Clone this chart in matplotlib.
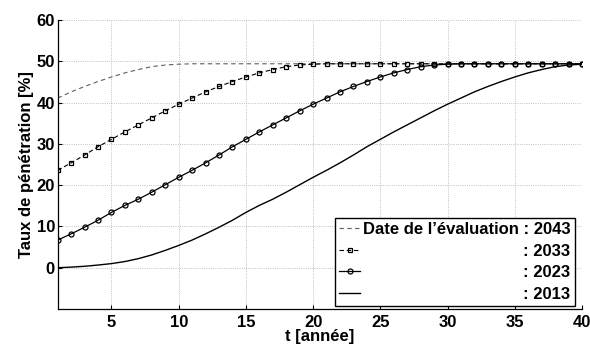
import matplotlib
matplotlib.use("Agg")
import matplotlib.pyplot as plt

plt.rcParams['font.family'] = ['Liberation Sans', 'DejaVu Sans']
plt.rcParams['font.weight'] = 'bold'
plt.rcParams['font.size'] = 12

# ===== données =====
t = list(range(1, 41))

taux_2043 = [41.1, 42.6, 43.9, 45.1, 46.2, 47.2, 48.0, 48.7, 49.1, 49.3,
             49.4, 49.4, 49.4, 49.4, 49.4, 49.4, 49.4, 49.4, 49.4, 49.4,
             49.4, 49.4, 49.4, 49.4, 49.4, 49.4, 49.4, 49.4, 49.4, 49.4,
             49.4, 49.4, 49.4, 49.4, 49.4, 49.4, 49.4, 49.4, 49.4, 49.4]
taux_2033 = [23.6, 25.4, 27.3, 29.3, 31.1, 32.9, 34.6, 36.3, 38.0, 39.6,
             41.1, 42.6, 43.9, 45.1, 46.2, 47.2, 48.0, 48.7, 49.1, 49.3,
             49.4, 49.4, 49.4, 49.4, 49.4, 49.4, 49.4, 49.4, 49.4, 49.4,
             49.4, 49.4, 49.4, 49.4, 49.4, 49.4, 49.4, 49.4, 49.4, 49.4]
taux_2023 = [6.7, 8.2, 9.8, 11.5, 13.4, 15.1, 16.6, 18.3, 20.1, 21.9,
             23.6, 25.4, 27.3, 29.3, 31.1, 32.9, 34.6, 36.3, 38.0, 39.6,
             41.1, 42.6, 43.9, 45.1, 46.2, 47.2, 48.0, 48.7, 49.1, 49.3,
             49.4, 49.4, 49.4, 49.4, 49.4, 49.4, 49.4, 49.4, 49.4, 49.4]
taux_2013 = [0.0, 0.15, 0.35, 0.65, 1.0, 1.5, 2.2, 3.1, 4.2, 5.4,
             6.7, 8.2, 9.8, 11.5, 13.4, 15.1, 16.6, 18.3, 20.1, 21.9,
             23.6, 25.4, 27.3, 29.3, 31.1, 32.9, 34.6, 36.3, 38.0, 39.6,
             41.1, 42.6, 43.9, 45.1, 46.2, 47.2, 48.0, 48.7, 49.1, 49.3]

labels = ["Date de l\u2019évaluation : 2043", ": 2033", ": 2023", ": 2013"]
xticks = [5, 10, 15, 20, 25, 30, 35, 40]
yticks = [0, 10, 20, 30, 40, 50, 60]

# ===== graphique =====
fig = plt.figure(figsize=(5.9, 3.45), dpi=100)
ax = fig.add_axes([0.0978, 0.1043, 0.8886, 0.8377])

ax.plot(t, taux_2043, color="#606060", linestyle=(0, (4, 3)), linewidth=0.8,
        label=labels[0])
ax.plot(t, taux_2033, color="black", linestyle=(0, (4, 2.5)), linewidth=0.8,
        marker="s", markersize=3.4, markerfacecolor="none", markeredgewidth=0.9,
        label=labels[1])
ax.plot(t, taux_2023, color="black", linestyle="-", linewidth=0.9,
        marker="o", markersize=3.6, markerfacecolor="none", markeredgewidth=0.9,
        label=labels[2])
ax.plot(t, taux_2013, color="black", linestyle="-", linewidth=1.0,
        label=labels[3])

ax.set_xlim(1, 40)
ax.set_ylim(-10, 60)
ax.set_xticks(xticks)
ax.set_yticks(yticks)
ax.grid(True, linestyle=":", linewidth=0.6, color="#aaaaaa")
ax.tick_params(direction="in", length=3, width=0.8)
ax.tick_params(axis="x", pad=4)
ax.tick_params(axis="y", pad=2)

for s in ["top", "right"]:
    ax.spines[s].set_visible(False)
for s in ["left", "bottom"]:
    ax.spines[s].set_linewidth(0.9)

ax.set_xlabel("t [année]", fontweight="bold")
ax.set_ylabel("Taux de pénétration [%]", fontweight="bold")
ax.xaxis.set_label_coords(0.5, -0.07)
ax.yaxis.set_label_coords(-0.045, 0.5)

# 凡例
leg = ax.legend(loc="lower right", bbox_to_anchor=(0.986, 0.0104),
                fancybox=False, framealpha=1, edgecolor="black",
                borderpad=0.25, handlelength=1.3, handletextpad=0.15,
                labelspacing=0.4, borderaxespad=0)
leg.get_frame().set_linewidth(1.0)

# 凡例のテキストを右寄せ
fig.canvas.draw()
r = fig.canvas.get_renderer()
texts = leg.get_texts()
widths = [tx.get_window_extent(r).width for tx in texts]
wmax = max(widths)
for tx, w in zip(texts, widths):
    tx.set_x(wmax - w)

fig.savefig("out.png", dpi=100)
